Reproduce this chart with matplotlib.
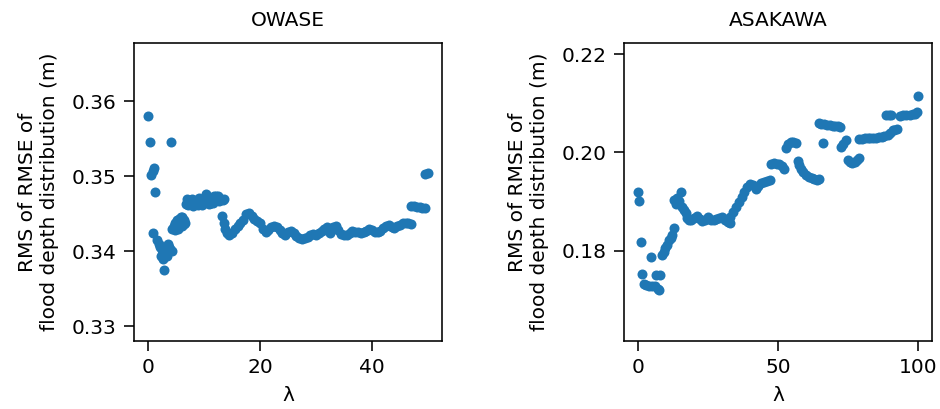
import matplotlib
matplotlib.use("Agg")
import matplotlib.pyplot as plt
from matplotlib.ticker import FormatStrFormatter

# OWASE: lambda vs RMS of RMSE
owase_lam = [
    0.0, 0.35, 0.5, 0.8, 1.1, 1.3, 0.8, 4.1,
    1.6, 1.9, 2.2, 2.5, 2.3, 2.6, 2.8, 3.0, 3.3, 3.5, 3.8, 4.0, 4.2, 3.6,
    4.3, 4.6, 4.9, 5.2, 5.5, 5.8, 6.1, 6.4, 6.6, 4.8, 5.4, 6.0, 6.5,
    6.7, 7.0, 7.3, 7.6, 7.9, 8.2, 8.5, 8.8, 9.1, 9.4, 9.7, 10.0, 10.3, 10.6,
    10.9, 11.2, 11.5, 11.8, 12.1, 12.4, 12.7, 13.0, 7.2, 8.0, 9.0, 9.8,
    10.8, 11.6, 12.5, 13.3, 13.5,
    13.2, 13.5, 13.8, 14.1,
    14.5, 15.0, 15.5, 16.0, 16.5, 17.0, 17.5, 18.0, 18.5, 19.0, 19.5,
    20.0, 20.5, 21.0, 21.5, 22.0, 22.5, 23.0, 23.5, 24.0, 24.5, 25.0,
    25.5, 26.0, 26.5, 27.0, 27.5, 28.0, 28.5, 29.0, 29.5, 30.0, 30.5,
    31.0, 31.5, 32.0, 32.5, 33.0, 33.5, 34.0, 34.5, 35.0, 35.5, 36.0,
    36.5, 37.0, 37.5, 38.0, 38.5, 39.0, 39.5, 40.0, 40.5, 41.0, 41.5,
    42.0, 42.5, 43.0, 43.5, 44.0, 44.5, 45.0, 45.5, 46.0, 46.5, 47.0,
    47.0, 47.5, 48.0, 48.5, 49.0, 49.5, 49.4, 50.0,
]
owase_rms = [
    0.3581, 0.3546, 0.3502, 0.3507, 0.3511, 0.3479, 0.3424, 0.3546,
    0.3415, 0.3409, 0.3405, 0.3401, 0.3394, 0.3389, 0.3375, 0.3396, 0.3393,
    0.3401, 0.3406, 0.3403, 0.3400, 0.3409,
    0.3430, 0.3434, 0.3438, 0.3441, 0.3443, 0.3445, 0.3446, 0.3442, 0.3437,
    0.3428, 0.3430, 0.3433, 0.3436,
    0.3463, 0.3470, 0.3467, 0.3464, 0.3469, 0.3466, 0.3463, 0.3468, 0.3471,
    0.3466, 0.3462, 0.3470, 0.3476, 0.3472, 0.3467, 0.3464, 0.3469, 0.3474,
    0.3473, 0.3469, 0.3467, 0.3470, 0.3461, 0.3460, 0.3461, 0.3466, 0.3463,
    0.3464, 0.3473, 0.3468, 0.3469,
    0.3447, 0.3438, 0.3430, 0.3424,
    0.3421, 0.3424, 0.3429, 0.3433, 0.3437, 0.3442, 0.3450, 0.3451, 0.3447,
    0.3443, 0.3440, 0.3437, 0.3430, 0.3425, 0.3428, 0.3432, 0.3433, 0.3432,
    0.3428, 0.3424, 0.3422, 0.3425, 0.3427, 0.3424, 0.3420, 0.3417, 0.3416,
    0.3417, 0.3419, 0.3422, 0.3423, 0.3421, 0.3424, 0.3427, 0.3430, 0.3432,
    0.3424, 0.3432, 0.3433, 0.3428, 0.3423, 0.3421, 0.3422, 0.3424, 0.3427,
    0.3426, 0.3425, 0.3424, 0.3425, 0.3427, 0.3430, 0.3428, 0.3426, 0.3425,
    0.3427, 0.3431, 0.3434, 0.3435, 0.3432, 0.3431, 0.3433, 0.3435, 0.3437,
    0.3438, 0.3437, 0.3436,
    0.3460, 0.3460, 0.3459, 0.3459, 0.3458, 0.3457, 0.3503, 0.3505,
]

# ASAKAWA: lambda vs RMS of RMSE
asakawa_lam = [
    0.0, 0.5, 1.0, 1.5, 2.0, 3.0, 4.0, 4.5, 5.0, 6.0, 6.3, 7.0, 7.5, 8.0,
    8.6, 9.2, 9.8, 10.4, 11.0, 11.6, 12.2, 12.8, 12.8, 13.4, 14.0, 14.6,
    15.2, 15.8, 16.4, 17.0, 17.6, 18.2, 19.0, 20.0, 21.0, 22.0, 23.0, 24.0,
    25.0, 26.0, 27.0, 28.0, 29.0, 30.0, 31.0, 32.0, 32.7, 33.0, 34.0, 35.0,
    36.0, 37.0, 38.0, 39.0, 40.0, 41.0, 42.0, 43.0, 44.0, 45.0, 46.0, 47.0,
    47.6, 48.5, 49.5, 50.5, 51.5, 52.1, 52.7, 53.5, 54.5, 55.5, 56.5, 57.0,
    57.6, 58.2, 59.0, 60.0, 61.0, 62.0, 63.0, 64.0, 64.7, 64.7, 65.5, 65.9,
    66.5, 67.5, 68.5, 69.5, 70.5, 71.5, 72.0, 72.5, 73.3, 74.2, 74.9, 75.7,
    76.6, 77.5, 78.3, 79.0, 79.0, 80.0, 81.0, 82.0, 83.0, 84.0, 85.0, 86.0,
    87.0, 88.0, 88.7, 89.5, 90.2, 89.2, 90.0, 91.0, 91.6, 92.4, 93.4, 94.5,
    95.8, 97.0, 98.2, 99.0, 99.6, 100.0,
]
asakawa_rms = [
    0.1920, 0.1902, 0.1817, 0.1753, 0.1732, 0.1730, 0.1729, 0.1788, 0.1728,
    0.1729, 0.1751, 0.1722, 0.1719, 0.1751, 0.1792, 0.1798, 0.1805, 0.1812,
    0.1822, 0.1826, 0.1832, 0.1847, 0.1904, 0.1896, 0.1908, 0.1902, 0.1919,
    0.1888, 0.1882, 0.1876, 0.1867, 0.1862, 0.1863, 0.1866, 0.1870, 0.1864,
    0.1860, 0.1862, 0.1868, 0.1863, 0.1862, 0.1864, 0.1867, 0.1868, 0.1863,
    0.1859, 0.1857, 0.1869, 0.1878, 0.1888, 0.1900, 0.1910, 0.1920, 0.1930,
    0.1936, 0.1934, 0.1925, 0.1932, 0.1938, 0.1940, 0.1942, 0.1944,
    0.1976, 0.1978, 0.1977, 0.1976, 0.1972, 0.1966, 0.2009, 0.2018, 0.2022,
    0.2021, 0.2019, 0.1983, 0.1975, 0.1967, 0.1960, 0.1955, 0.1951, 0.1948,
    0.1945, 0.1944, 0.1946, 0.2060, 0.2058, 0.2020, 0.2057, 0.2056, 0.2055,
    0.2054, 0.2054, 0.2053, 0.2052, 0.2012, 0.2018, 0.2026, 0.1985, 0.1981,
    0.1978, 0.1981, 0.1985, 0.1988, 0.2027, 0.2028, 0.2029, 0.2029, 0.2029,
    0.2030, 0.2030, 0.2031, 0.2032, 0.2034, 0.2077, 0.2077, 0.2077, 0.2036,
    0.2040, 0.2045, 0.2046, 0.2048, 0.2075, 0.2076, 0.2077, 0.2077, 0.2078,
    0.2079, 0.2082, 0.2115,
]

titles = ["OWASE", "ASAKAWA"]
ylabel = "RMS of RMSE of\nflood depth distribution (m)"
xlabel = "λ"

FS = 14.5
plt.rcParams.update({
    "font.family": "DejaVu Sans",
    "font.size": FS,
    "axes.linewidth": 1.15,
    "xtick.major.width": 1.15,
    "ytick.major.width": 1.15,
    "xtick.major.size": 7.0,
    "ytick.major.size": 7.0,
    "xtick.major.pad": 5.5,
    "ytick.major.pad": 5.5,
})

fig, axes = plt.subplots(1, 2, figsize=(9.4, 4.09), dpi=100)
fig.subplots_adjust(left=0.1426, right=0.9915, bottom=0.1663, top=0.8949,
                    wspace=0.591)

panels = [
    (owase_lam, owase_rms, (0.3280, 0.3678), [0.33, 0.34, 0.35, 0.36], [0, 20, 40]),
    (asakawa_lam, asakawa_rms, (0.1616, 0.2223), [0.18, 0.20, 0.22], [0, 50, 100]),
]

for ax, title, (lam, rms, ylim, yticks, xticks) in zip(axes, titles, panels):
    ax.scatter(lam, rms, s=52, color="#1f77b4", linewidths=0)
    ax.set_ylim(*ylim)
    ax.set_yticks(yticks)
    ax.set_xticks(xticks)
    ax.set_title(title, fontsize=FS, pad=12)
    ax.set_xlabel(xlabel, fontsize=FS, labelpad=6)
    ax.set_ylabel(ylabel, fontsize=FS, labelpad=9)

axes[1].yaxis.set_major_formatter(FormatStrFormatter("%.2f"))

fig.savefig("out.png", dpi=100)
